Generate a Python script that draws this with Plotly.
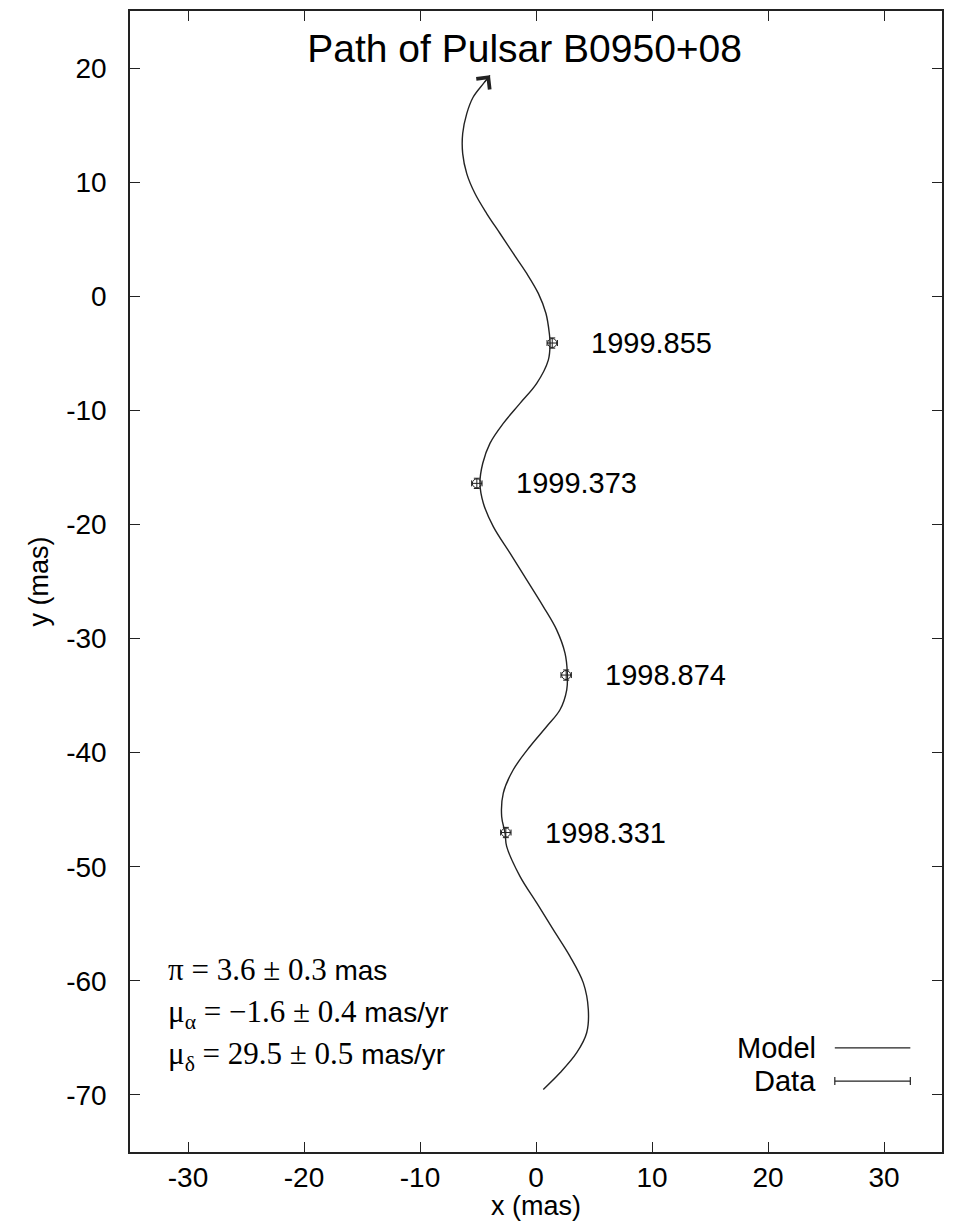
import plotly.graph_objects as go

# Model path, bottom -> top
model_x = [0.63, 2.07, 3.51, 4.37, 4.51, 4.08, 2.93, 1.49, 0.06, -1.38, -2.53, -2.67,
           -2.96, -2.82, -1.96, -0.52, 0.92, 2.07, 2.65, 2.70, 2.50, 1.78, 0.63, -0.80,
           -2.24, -3.68, -4.54, -4.83, -4.59, -3.97, -2.82, -1.38, 0.06, 1.06, 1.21,
           1.15, 0.86, 0.20, -0.80, -1.96, -3.10, -4.25, -5.26, -5.97, -6.32, -6.32,
           -5.97, -5.41, -4.54, -3.97]
model_y = [-69.52, -68.06, -66.30, -64.55, -62.51, -60.18, -57.85, -55.51, -53.17, -50.84,
           -48.21, -47.04, -45.59, -43.54, -41.50, -39.46, -37.71, -36.24, -34.49, -33.03,
           -31.28, -29.24, -27.20, -24.86, -22.52, -20.19, -18.14, -16.39, -14.64, -12.89,
           -11.14, -9.39, -7.64, -5.60, -4.13, -3.26, -1.51, 0.25, 2.00, 3.75, 5.50, 7.25,
           9.00, 10.75, 12.50, 14.26, 16.01, 17.46, 18.63, 19.36]

# Measured positions
epochs = ["1998.331", "1998.874", "1999.373", "1999.855"]
data_x = [-2.6, 2.6, -5.1, 1.4]
data_y = [-47.0, -33.2, -16.4, -4.1]
err_x = [0.45, 0.45, 0.45, 0.45]
err_y = [0.45, 0.45, 0.45, 0.45]

x_ticks = [-30, -20, -10, 0, 10, 20, 30]
y_ticks = [20, 10, 0, -10, -20, -30, -40, -50, -60, -70]

SERIF = 'font-family:Liberation Serif, Times New Roman, serif;font-size:31px'
params = [
    f'<span style="{SERIF}">\u03c0 = 3.6 \u00b1 0.3</span> mas',
    f'<span style="{SERIF}">\u03bc<sub>\u03b1</sub> = \u22121.6 \u00b1 0.4</span> mas/yr',
    f'<span style="{SERIF}">\u03bc<sub>\u03b4</sub> = 29.5 \u00b1 0.5</span> mas/yr',
]
param_y = [-59.0, -62.9, -66.6]

INK = "#222222"
SANS = "Liberation Sans, Arial, sans-serif"

fig = go.Figure()
fig.add_trace(go.Scatter(x=model_x, y=model_y, mode="lines", name="Model",
                         line=dict(color=INK, width=1.4, shape="spline", smoothing=1.0),
                         showlegend=False))
fig.add_trace(go.Scatter(x=data_x, y=data_y, mode="markers", name="Data",
                         marker=dict(symbol="circle-open", size=9, color=INK,
                                     line=dict(width=1, color=INK)),
                         error_x=dict(type="data", array=err_x, color=INK, thickness=1, width=3),
                         error_y=dict(type="data", array=err_y, color=INK, thickness=1, width=3),
                         showlegend=False))

ann = []
# arrow head at the end of the path
ann.append(dict(x=model_x[-1], y=model_y[-1], ax=model_x[-2], ay=model_y[-2],
                xref="x", yref="y", axref="x", ayref="y", text="", showarrow=True,
                arrowhead=4, arrowsize=3, arrowwidth=1.1, arrowcolor=INK))
for lab, xv, yv in zip(epochs, data_x, data_y):
    ann.append(dict(x=xv, y=yv, xref="x", yref="y", text=lab, showarrow=False,
                    xanchor="left", yanchor="middle", xshift=37,
                    font=dict(family=SANS, size=29, color="black")))
for t, yv in zip(params, param_y):
    ann.append(dict(x=-31.9, y=yv, xref="x", yref="y", text=t,
                    showarrow=False, xanchor="left", yanchor="middle",
                    font=dict(family=SANS, size=28, color="black")))
# legend texts
ann.append(dict(x=0.847, y=0.0912, xref="paper", yref="paper", text="Model", showarrow=False,
                xanchor="right", yanchor="middle", font=dict(family=SANS, size=29, color="black")))
ann.append(dict(x=0.847, y=0.0622, xref="paper", yref="paper", text="Data", showarrow=False,
                xanchor="right", yanchor="middle", font=dict(family=SANS, size=29, color="black")))

shapes = [
    dict(type="line", xref="paper", yref="paper", x0=0.868, x1=0.961, y0=0.0912, y1=0.0912,
         line=dict(color=INK, width=1.2)),
    dict(type="line", xref="paper", yref="paper", x0=0.868, x1=0.961, y0=0.0622, y1=0.0622,
         line=dict(color=INK, width=1.2)),
    dict(type="line", xref="paper", yref="paper", x0=0.868, x1=0.868, y0=0.0587, y1=0.0657,
         line=dict(color=INK, width=1.2)),
    dict(type="line", xref="paper", yref="paper", x0=0.961, x1=0.961, y0=0.0587, y1=0.0657,
         line=dict(color=INK, width=1.2)),
]

axis_common = dict(showgrid=False, zeroline=False, showline=True, linecolor=INK, linewidth=1.5,
                   ticks="inside", ticklen=10, tickwidth=1.3, tickcolor=INK, mirror="ticks",
                   tickfont=dict(family=SANS, size=28, color="black"), automargin=False)

fig.update_layout(
    template="none",
    width=954, height=1221,
    margin=dict(l=130, r=12, t=11, b=69),
    paper_bgcolor="white", plot_bgcolor="white",
    title=dict(text="Path of Pulsar B0950+08", x=0.486, xref="paper", xanchor="center",
               y=1 - 48 / 1221, yref="container", yanchor="middle",
               font=dict(family=SANS, size=39, color="black")),
    xaxis=dict(range=[-35, 35], tickvals=x_ticks, ticktext=[str(v) for v in x_ticks],
               title=dict(text="x (mas)", standoff=6, font=dict(family=SANS, size=27, color="black")),
               ticklabelstandoff=0, **axis_common),
    yaxis=dict(range=[-75, 25], tickvals=y_ticks, ticktext=[str(v) for v in y_ticks],
               title=dict(text="y (mas)", standoff=10, font=dict(family=SANS, size=27, color="black")),
               ticklabelstandoff=16, **axis_common),
    annotations=ann,
    shapes=shapes,
    showlegend=False,
)

fig.write_html("out.html", config={"displayModeBar": False},
               post_script="document.body.style.margin='0';document.body.style.overflow='hidden';")
